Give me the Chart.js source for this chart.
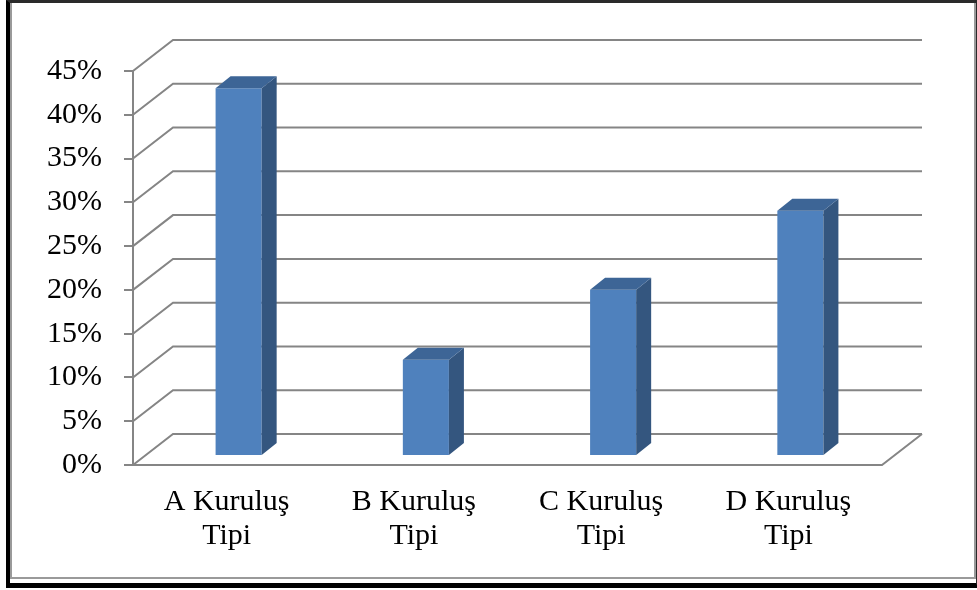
<!DOCTYPE html>
<html>
<head>
<meta charset="utf-8">
<script src="https://cdn.jsdelivr.net/npm/chart.js@4.4.1/dist/chart.umd.min.js"></script>
<style>
    html, body { margin: 0; padding: 0; background: #ffffff; }
    #wrap { position: relative; width: 977px; height: 590px; overflow: hidden; }
    #chart { position: absolute; left: 0; top: 0; }
    .frame-outer {
        position: absolute; left: 6px; top: 0; width: 966px; height: 580px;
        border-left: 4px solid #000; border-top: 3px solid #2a2a2a;
        border-right: 2px solid #2a2a2a; border-bottom: 5px solid #000;
        pointer-events: none;
    }
    .frame-inner {
        position: absolute; left: 10px; top: 3px; width: 962px; height: 574px;
        border-left: 2px solid #9a9a9a; border-right: 2px solid #9a9a9a;
        border-bottom: 2px solid #9a9a9a;
        pointer-events: none;
    }
</style>
</head>
<body>
<div id="wrap">
    <canvas id="chart" width="977" height="590"></canvas>
    <div class="frame-outer"></div>
    <div class="frame-inner"></div>
</div>
<script>
// data
const categories = [['A Kuruluş', 'Tipi'], ['B Kuruluş', 'Tipi'], ['C Kuruluş', 'Tipi'], ['D Kuruluş', 'Tipi']];
const values = [42, 11, 19, 28];
const yTicks = [0, 5, 10, 15, 20, 25, 30, 35, 40, 45];

// look
const GRID = '#858585';
const FRONT = '#4F81BD';
const TOP = '#3D6596';
const SIDE = '#34567F';
const WALL_DX = 40, WALL_DY = 31;   // back wall offset
const BAR_DX = 12, BAR_DY = 9;      // bars sit half way into the floor
const DEPTH_DX = 15, DEPTH_DY = 12; // depth of each bar
const SERIF = "'Liberation Serif', 'Times New Roman', serif";

/* fake 3D: back wall, floor and bar faces */
const depth3d = {
    id: 'depth3d',
    beforeDatasetsDraw(chart) {
        const { ctx, chartArea: a, scales: { y } } = chart;
        ctx.save();
        ctx.strokeStyle = GRID;
        ctx.lineWidth = 2;
        yTicks.forEach(v => {
            const py = y.getPixelForValue(v);
            ctx.beginPath();
            ctx.moveTo(a.left, py);
            ctx.lineTo(a.left + WALL_DX, py - WALL_DY);
            ctx.lineTo(a.right + WALL_DX, py - WALL_DY);
            ctx.stroke();
        });
        const p0 = y.getPixelForValue(0);
        ctx.beginPath();
        ctx.moveTo(a.left, p0);
        ctx.lineTo(a.right, p0);
        ctx.lineTo(a.right + WALL_DX, p0 - WALL_DY);
        ctx.stroke();
        ctx.restore();

        ctx.save();
        ctx.translate(BAR_DX, -BAR_DY);
    },
    afterDatasetsDraw(chart) {
        const { ctx } = chart;
        chart.getDatasetMeta(0).data.forEach(bar => {
            const l = bar.x - bar.width / 2, r = bar.x + bar.width / 2;
            const t = bar.y, b = bar.base;
            ctx.fillStyle = SIDE;
            ctx.beginPath();
            ctx.moveTo(r, t);
            ctx.lineTo(r + DEPTH_DX, t - DEPTH_DY);
            ctx.lineTo(r + DEPTH_DX, b - DEPTH_DY);
            ctx.lineTo(r, b);
            ctx.closePath();
            ctx.fill();
            ctx.fillStyle = TOP;
            ctx.beginPath();
            ctx.moveTo(l, t);
            ctx.lineTo(l + DEPTH_DX, t - DEPTH_DY);
            ctx.lineTo(r + DEPTH_DX, t - DEPTH_DY);
            ctx.lineTo(r, t);
            ctx.closePath();
            ctx.fill();
        });
        ctx.restore();
    }
};

new Chart(document.getElementById('chart'), {
    type: 'bar',
    data: {
        labels: categories,
        datasets: [{
            data: values,
            backgroundColor: FRONT,
            borderWidth: 0,
            categoryPercentage: 1,
            barPercentage: 0.246
        }]
    },
    options: {
        responsive: false,
        animation: false,
        events: [],
        layout: { padding: { left: 0, right: 95, top: 71, bottom: 0 } },
        plugins: { legend: { display: false }, tooltip: { enabled: false } },
        scales: {
            x: {
                grid: { display: false, drawTicks: false },
                border: { display: false },
                ticks: {
                    color: '#000',
                    font: { family: SERIF, size: 30, lineHeight: 1.13 },
                    padding: 20,
                    maxRotation: 0,
                    autoSkip: false
                },
                afterFit(scale) { scale.height = 125; }
            },
            y: {
                min: 0,
                max: 45,
                grid: { drawOnChartArea: false, drawTicks: true, tickLength: 9, color: GRID, lineWidth: 2 },
                border: { display: true, color: GRID, width: 2 },
                ticks: {
                    stepSize: 5,
                    color: '#000',
                    font: { family: SERIF, size: 30 },
                    padding: 22,
                    callback: v => v + '%'
                },
                afterFit(scale) { scale.width = 133; }
            }
        }
    },
    plugins: [depth3d]
});
</script>
</body>
</html>
